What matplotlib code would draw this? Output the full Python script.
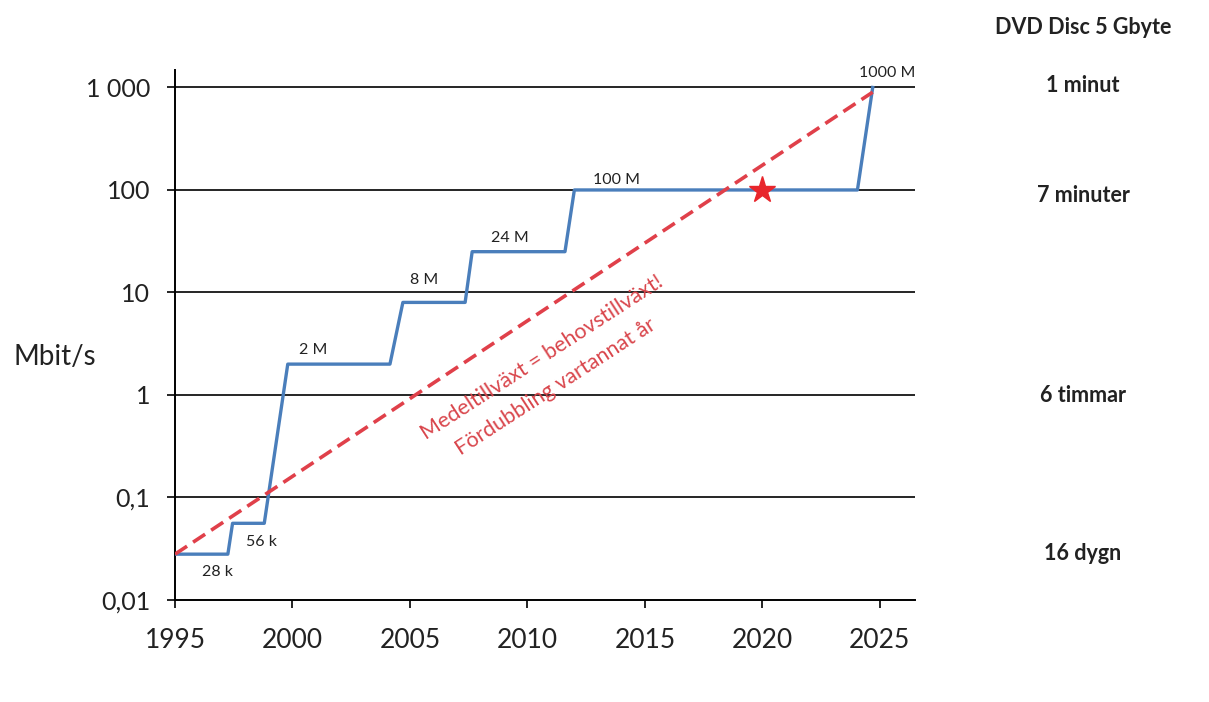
import matplotlib
matplotlib.use("Agg")
import matplotlib.pyplot as plt
from matplotlib.ticker import FixedLocator, NullLocator

plt.rcParams['font.family'] = ['Lato', 'DejaVu Sans']

# Bredband hastighet (Mbit/s), trappstegskurva
years = [1995, 1997.25, 1997.45, 1998.8, 1999.8, 2004.15, 2004.7, 2007.35, 2007.65,
         2011.6, 2012.0, 2024.05, 2024.7]
speeds = [0.028, 0.028, 0.056, 0.056, 2, 2, 8, 8, 25, 25, 100, 100, 1000]

# Medeltillväxt (röd streckad linje)
trend_years = [1995, 2024.7]
trend_speeds = [0.028, 900]

star_year = [2020]
star_speed = [100]

# etiketter vid trappstegen
step_labels = ["28 k", "56 k", "2 M", "8 M", "24 M", "100 M", "1000 M"]
step_label_x = [1996.8, 1998.7, 2000.9, 2005.6, 2009.25, 2013.8, 2025.3]
step_label_y = [0.0188, 0.037, 2.75, 13.2, 34, 125, 1380]

ytick_vals = [0.01, 0.1, 1, 10, 100, 1000]
ytick_text = ["0,01", "0,1", "1", "10", "100", "1 000"]
xtick_vals = [1995, 2000, 2005, 2010, 2015, 2020, 2025]

dvd_times = ["1 minut", "7 minuter", "6 timmar", "16 dygn"]
dvd_y_px = [86, 195, 395, 553]

W, H = 1209, 702
fig = plt.figure(figsize=(W / 100, H / 100), dpi=100)
ax = fig.add_axes([175 / W, 1 - 600 / H, 740 / W, 530 / H])

ax.set_yscale("log")
ax.set_xlim(1995, 2026.5)
ax.set_ylim(0.01, 1480)

for v in ytick_vals[1:]:
    ax.axhline(v, color="black", lw=1.2, zorder=1)

ax.plot(years, speeds, color="#4a7ebb", lw=2.4, zorder=3)
ax.plot(trend_years, trend_speeds, color="#e0404a", lw=2.6, ls=(0, (4, 2)), zorder=4)
ax.plot(star_year, star_speed, marker="*", color="#e8262c", markersize=20, ls="none", zorder=5)

for t, x, y in zip(step_labels, step_label_x, step_label_y):
    ax.text(x, y, t, fontsize=11.5, ha="center", va="center", color="#222222")

ax.yaxis.set_major_locator(FixedLocator(ytick_vals))
ax.yaxis.set_minor_locator(NullLocator())
ax.set_yticklabels(ytick_text)
ax.set_xticks(xtick_vals)
ax.tick_params(axis="both", length=6, width=1.2, direction="out", color="black",
               labelcolor="#222222")
ax.tick_params(axis="y", labelsize=18, pad=12)
ax.tick_params(axis="x", labelsize=19, pad=14)

for s in ["top", "right"]:
    ax.spines[s].set_visible(False)
for s in ["left", "bottom"]:
    ax.spines[s].set_linewidth(1.4)

fig.text(55 / W, 1 - 357 / H, "Mbit/s", fontsize=20, ha="center", va="center",
         color="#222222")

# röd text längs trendlinjen
fig.text(542 / W, 1 - 357 / H, "Medeltillväxt = behovstillväxt!", fontsize=15.5,
         color="#d9464c", rotation=33, ha="center", va="center", rotation_mode="anchor")
fig.text(556 / W, 1 - 387 / H, "Fördubbling vartannat år", fontsize=15.5,
         color="#d9464c", rotation=33, ha="center", va="center", rotation_mode="anchor")

# DVD-kolumnen till höger
fig.text(1083 / W, 1 - 28 / H, "DVD Disc 5 Gbyte", fontsize=15.5, fontweight="bold",
         ha="center", va="center", color="#222222")
for t, y in zip(dvd_times, dvd_y_px):
    fig.text(1083 / W, 1 - y / H, t, fontsize=15.5, fontweight="bold",
             ha="center", va="center", color="#222222")

fig.savefig("out.png", dpi=100)
